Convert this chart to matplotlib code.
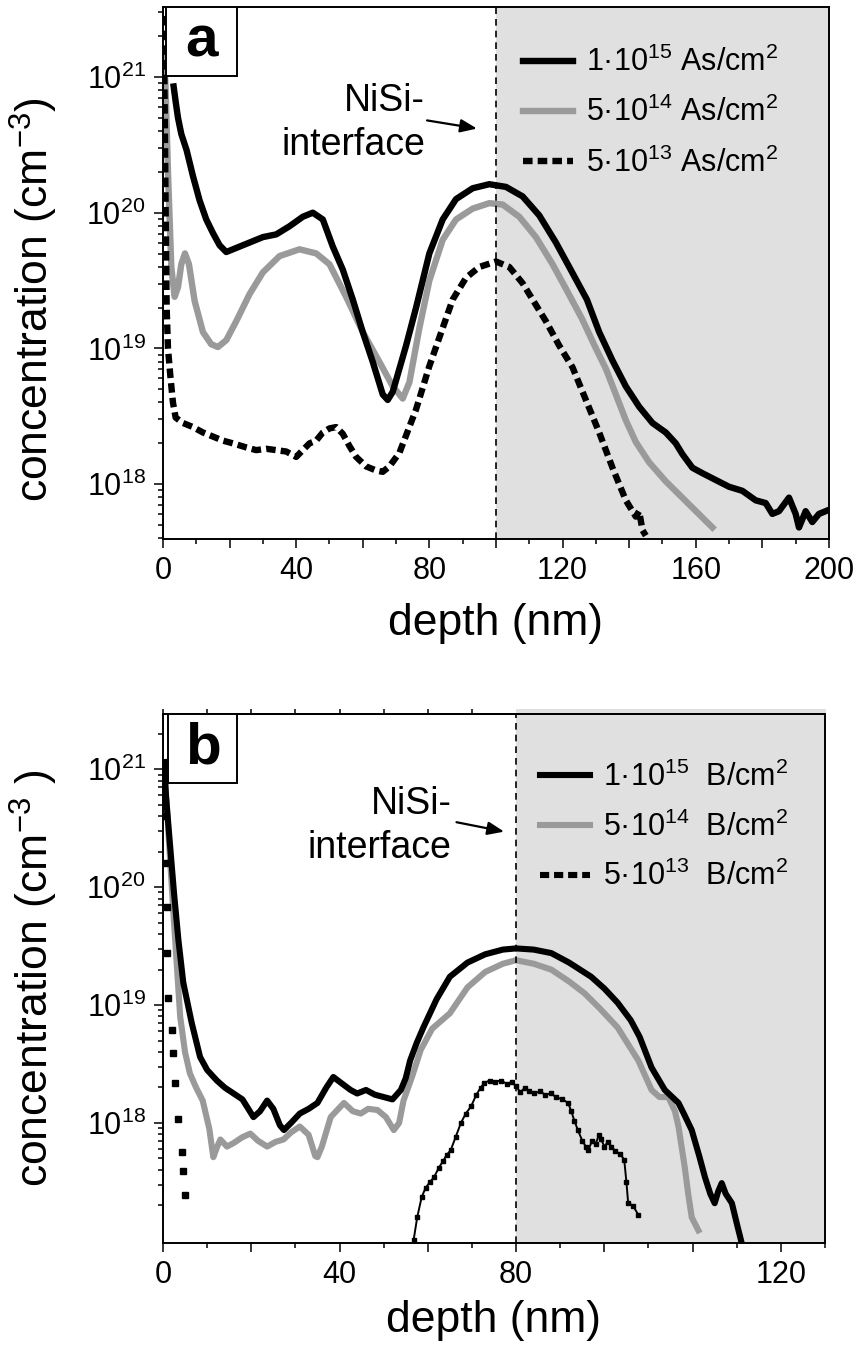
import numpy as np
import matplotlib
matplotlib.use("Agg")
import matplotlib.pyplot as plt
from matplotlib.lines import Line2D
from matplotlib.patches import Rectangle
from matplotlib.ticker import (MultipleLocator, FixedLocator, LogLocator,
                               FuncFormatter, NullFormatter, LogFormatterSciNotation)
import matplotlib.transforms as mtransforms

plt.rcParams['font.family'] = ['Liberation Sans', 'DejaVu Sans']
plt.rcParams['mathtext.fontset'] = 'custom'
plt.rcParams['mathtext.rm'] = 'Liberation Sans'
plt.rcParams['mathtext.it'] = 'Liberation Sans:italic'
plt.rcParams['mathtext.bf'] = 'Liberation Sans:bold'

# --- Panel a: As profiles (depth in nm, log10 of concentration in cm^-3) ---
a_1e15_x = [3.2, 3.8, 4.5, 5.5, 7.1, 9, 11, 13, 15, 17, 19, 22, 26, 30, 34, 38, 42, 45, 48,
            51, 54, 57, 60, 63, 66, 67.5, 69, 71, 73, 76, 80, 84, 88, 93, 98, 103, 108, 113,
            118, 122, 127.3, 131, 135, 139, 143, 147, 151, 154, 156, 159, 162, 166, 170, 174,
            178, 181, 183, 185, 188, 190, 191, 193, 195, 197, 200]
a_1e15_log = [20.93, 20.82, 20.70, 20.58, 20.46, 20.27, 20.09, 19.95, 19.85, 19.76, 19.71, 19.74,
              19.78, 19.82, 19.84, 19.90, 19.97, 20.00, 19.95, 19.75, 19.58, 19.36, 19.12, 18.90,
              18.66, 18.62, 18.68, 18.85, 19.02, 19.30, 19.70, 19.95, 20.10, 20.18, 20.21, 20.19,
              20.12, 19.98, 19.78, 19.60, 19.36, 19.12, 18.91, 18.72, 18.57, 18.45, 18.38, 18.30,
              18.22, 18.12, 18.08, 18.03, 17.98, 17.95, 17.88, 17.86, 17.78, 17.80, 17.90, 17.78,
              17.68, 17.80, 17.72, 17.78, 17.81]

a_5e14_x = [0.3, 0.8, 1.5, 2.5, 3.5, 4.5, 5.5, 6.6, 7.8, 9.5, 12, 14.5, 16.5, 19, 22, 26, 30, 35,
            41, 46, 50, 55, 60, 65, 69, 72, 74, 77, 80, 84, 88, 93, 98, 102, 107, 112, 117, 121,
            125.8, 130, 133, 136, 139, 142, 146, 151, 158, 165]
a_5e14_log = [21.20, 20.90, 20.30, 19.60, 19.38, 19.45, 19.62, 19.70, 19.62, 19.35, 19.12, 19.03,
              19.01, 19.06, 19.20, 19.40, 19.56, 19.68, 19.73, 19.70, 19.62, 19.38, 19.12, 18.90,
              18.72, 18.63, 18.75, 19.15, 19.50, 19.80, 19.95, 20.03, 20.07, 20.06, 19.97, 19.82,
              19.62, 19.44, 19.22, 19.00, 18.85, 18.66, 18.47, 18.31, 18.16, 18.02, 17.85, 17.68]

a_5e13_x = [0.2, 0.5, 0.8, 1.1, 1.5, 2.2, 3, 3.8, 6, 9, 12, 15, 18, 21, 25, 28, 31, 34, 37, 40,
            42, 44, 46, 48, 50, 52, 54, 56, 58, 61, 64, 66, 68, 71, 76, 80, 84, 87, 91, 95, 100,
            104, 108, 111, 115, 119, 123, 127, 131, 135, 139, 142, 143, 144, 145]
a_5e13_log = [21.45, 20.80, 20.00, 19.30, 19.00, 18.80, 18.60, 18.49, 18.45, 18.42, 18.38, 18.35,
              18.32, 18.30, 18.27, 18.25, 18.26, 18.25, 18.24, 18.20, 18.25, 18.30, 18.32, 18.38,
              18.41, 18.42, 18.37, 18.28, 18.20, 18.13, 18.10, 18.09, 18.13, 18.23, 18.55, 18.87,
              19.15, 19.36, 19.52, 19.60, 19.64, 19.60, 19.48, 19.36, 19.20, 19.02, 18.86, 18.62,
              18.38, 18.12, 17.88, 17.76, 17.80, 17.66, 17.62]

# --- Panel b: B profiles ---
b_1e15_x = [0.3, 0.7, 1.5, 2.5, 3.5, 4.6, 6.5, 8.4, 10, 12.2, 14, 16, 18, 20.5, 22, 23.6, 25,
            26.5, 27.4, 29, 31, 33, 35, 37, 38.6, 40, 42.5, 44, 46, 48, 50, 52, 53.9, 55, 56,
            57.5, 59, 62, 65, 69, 73, 77, 80, 84, 88, 92, 97, 100, 103, 106, 108, 110.7, 113.7,
            116.8, 118, 119.8, 121.5, 122.8, 124, 125, 125.8, 126.6, 127.5, 128.9, 130, 131]
b_1e15_log = [21.06, 20.76, 20.40, 19.95, 19.55, 19.19, 18.85, 18.56, 18.45, 18.36, 18.30, 18.25,
              18.20, 18.05, 18.10, 18.19, 18.12, 17.98, 17.94, 18.00, 18.08, 18.12, 18.17, 18.30,
              18.39, 18.35, 18.28, 18.25, 18.28, 18.24, 18.22, 18.20, 18.28, 18.38, 18.53, 18.68,
              18.81, 19.05, 19.24, 19.36, 19.43, 19.47, 19.48, 19.47, 19.44, 19.36, 19.24, 19.14,
              19.02, 18.87, 18.73, 18.47, 18.28, 18.17, 18.08, 17.94, 17.72, 17.54, 17.40, 17.32,
              17.42, 17.49, 17.40, 17.32, 17.15, 17.00]

b_5e14_x = [0.3, 0.8, 1.5, 2.5, 3.9, 5, 6.1, 7.5, 9, 10.5, 11.4, 12.3, 13, 14.5, 16, 18, 19.8,
            21.5, 23.6, 25.5, 27.3, 29, 31, 33, 34.5, 35, 36, 38, 41, 43, 44.8, 46.5, 48.6, 50.5,
            52.3, 53.5, 54.5, 56.5, 58.4, 61, 65, 69, 73, 77, 80, 84, 88, 92, 95.5, 99, 103,
            107.7, 110.7, 112.5, 114.5, 116, 116.8, 118.2, 119, 119.8, 121.3]
b_5e14_log = [20.90, 20.74, 20.30, 19.70, 18.90, 18.60, 18.42, 18.30, 18.19, 17.95, 17.71, 17.80,
              17.86, 17.80, 17.83, 17.88, 17.91, 17.85, 17.80, 17.84, 17.86, 17.92, 17.97, 17.90,
              17.72, 17.71, 17.80, 18.05, 18.17, 18.10, 18.08, 18.12, 18.11, 18.05, 17.94, 18.00,
              18.19, 18.40, 18.62, 18.80, 18.93, 19.15, 19.28, 19.35, 19.38, 19.35, 19.30, 19.20,
              19.10, 18.97, 18.81, 18.53, 18.28, 18.22, 18.22, 18.10, 17.97, 17.63, 17.40, 17.20,
              17.09]

b_5e13_surf_x = [0.2, 0.5, 0.8, 1.0, 1.2, 2.0, 2.3, 2.7, 3.4, 4.2, 4.6, 5.0]
b_5e13_surf_log = [20.60, 20.20, 19.83, 19.44, 19.06, 18.79, 18.59, 18.34, 18.03, 17.75, 17.59, 17.39]

b_5e13_peak_x = [56.8, 57.6, 58.6, 59.5, 60.5, 61.4, 62.5, 63.5, 64.3, 65.2, 66.3, 67.5, 68.6,
                 69.8, 71, 72, 72.8, 74, 75.3, 76.6, 78, 79, 80, 81, 82, 83, 84, 85.5, 86.5, 88,
                 89, 90.5, 91.8, 92.5, 93.2, 94, 95, 95.8, 96.4, 97.2, 98, 98.8, 99.3, 100,
                 100.8, 101.6, 102.5, 103.5, 104.5, 105, 105.4, 106.5, 107.7]
b_5e13_peak_log = [17.01, 17.20, 17.37, 17.45, 17.50, 17.54, 17.62, 17.68, 17.73, 17.77, 17.88,
                   18.00, 18.08, 18.14, 18.24, 18.30, 18.34, 18.36, 18.35, 18.36, 18.33, 18.35,
                   18.31, 18.26, 18.30, 18.27, 18.25, 18.27, 18.24, 18.25, 18.22, 18.20, 18.17,
                   18.10, 18.02, 17.94, 17.85, 17.80, 17.77, 17.85, 17.82, 17.90, 17.86, 17.80,
                   17.84, 17.80, 17.76, 17.74, 17.69, 17.50, 17.32, 17.30, 17.22]

a_labels = ['1·10$^{15}$ As/cm$^2$', '5·10$^{14}$ As/cm$^2$', '5·10$^{13}$ As/cm$^2$']
b_labels = ['1·10$^{15}$  B/cm$^2$', '5·10$^{14}$  B/cm$^2$', '5·10$^{13}$  B/cm$^2$']
b_xtick_pos = [0, 40, 80, 140]
b_xtick_labels = ['0', '40', '80', '120']

GRAY = '#9a9a9a'
SHADE = '#e0e0e0'
DOTS = (0, (1.5, 0.8))


def style_axis(ax):
    for s in ax.spines.values():
        s.set_linewidth(1.4)
    ax.tick_params(which='both', direction='out', width=1.1, labelsize=22, pad=6)
    ax.tick_params(which='major', length=6.5)
    ax.tick_params(which='minor', length=3.5)
    ax.set_yscale('log')
    ax.yaxis.set_major_locator(FixedLocator([1e18, 1e19, 1e20, 1e21]))
    ax.yaxis.set_major_formatter(LogFormatterSciNotation())
    ax.yaxis.set_minor_locator(LogLocator(base=10, subs=np.arange(2, 10), numticks=20))
    ax.yaxis.set_minor_formatter(NullFormatter())
    ax.xaxis.set_major_locator(MultipleLocator(20))
    ax.xaxis.set_minor_locator(MultipleLocator(10))


fig = plt.figure(figsize=(8.56, 13.46), dpi=100)

# ---------------- panel a ----------------
ax = fig.add_axes([0.1904, 0.5996, 0.7780, 0.3952])
style_axis(ax)
ax.axvspan(100, 200, color=SHADE, zorder=0, lw=0)
la1, = ax.plot(a_1e15_x, 10 ** np.array(a_1e15_log), color='black', lw=4.6, zorder=2)
la2, = ax.plot(a_5e14_x, 10 ** np.array(a_5e14_log), color=GRAY, lw=4.6, zorder=1.9)
la3, = ax.plot(a_5e13_x, 10 ** np.array(a_5e13_log), color='black', lw=4.6, ls=DOTS, zorder=2)
ax.axvline(100, color='black', lw=1.2, ls=(0, (4, 3)), zorder=3)
ax.set_xlim(0, 200)
ax.set_ylim(3.94e17, 3.28e21)
ax.xaxis.set_major_formatter(FuncFormatter(lambda v, p: f'{v:.0f}' if round(v) % 40 == 0 else ''))
ax.set_xlabel('depth (nm)', fontsize=32, labelpad=12)
ax.set_ylabel('concentration (cm$^{-3}$)', fontsize=32)
ax.yaxis.set_label_coords(-0.155, 0.45)
ax.legend([la1, la2, la3], a_labels, loc='upper left', bbox_to_anchor=(0.5405, 0.925),
          frameon=False, fontsize=22, handlelength=1.65, handletextpad=0.4,
          labelspacing=0.62, borderpad=0, borderaxespad=0)
ax.annotate('', xy=(94.3, 10 ** 20.62), xytext=(79.3, 10 ** 20.68),
            arrowprops=dict(arrowstyle='-|>,head_length=1.0,head_width=0.4', lw=1.6,
                            color='black', shrinkA=0, shrinkB=0))
ax.text(78.7, 10 ** 20.66, 'NiSi-\ninterface', fontsize=27, ha='right', va='center',
        multialignment='right', linespacing=1.3)
ax.add_patch(Rectangle((0.0045, 0.870), 0.1065, 0.13, transform=ax.transAxes,
                       facecolor='white', edgecolor='black', lw=1.4, zorder=4))
ax.text(0.0578, 0.935, 'a', transform=ax.transAxes, fontsize=42, fontweight='bold',
        ha='center', va='center', zorder=5)

# ---------------- panel b ----------------
bx = fig.add_axes([0.1904, 0.0765, 0.7734, 0.3930])
style_axis(bx)
trans = mtransforms.blended_transform_factory(bx.transData, bx.transAxes)
bx.add_patch(Rectangle((80, 0), 70.3, 1.0095, transform=trans, facecolor=SHADE,
                       edgecolor='none', zorder=0, clip_on=False))
lb1, = bx.plot(b_1e15_x, 10 ** np.array(b_1e15_log), color='black', lw=4.4, zorder=2)
lb2, = bx.plot(b_5e14_x, 10 ** np.array(b_5e14_log), color=GRAY, lw=4.4, zorder=1.9)
bx.plot(b_5e13_surf_x, 10 ** np.array(b_5e13_surf_log), color='black', ls='none',
        marker='s', ms=4.5, zorder=2)
bx.plot(b_5e13_peak_x, 10 ** np.array(b_5e13_peak_log), color='black', lw=1.4,
        marker='s', ms=2.6, zorder=2)
bx.axvline(80, color='black', lw=1.2, ls=(0, (4, 3)), zorder=3)
bx.set_xlim(0, 150)
bx.set_ylim(9.6e16, 2.93e21)
pos_lab = dict(zip(b_xtick_pos, b_xtick_labels))
bx.xaxis.set_major_formatter(FuncFormatter(lambda v, p: pos_lab.get(int(round(v)), '')))
top = bx.secondary_xaxis('top')
top.set_xticks(np.arange(0, 71, 10))
top.tick_params(direction='out', length=3.5, width=1.1, labeltop=False)
top.spines['top'].set_linewidth(1.4)
bx.set_xlabel('depth (nm)', fontsize=32, labelpad=7)
bx.set_ylabel('concentration (cm$^{-3}$ )', fontsize=32)
bx.yaxis.set_label_coords(-0.156, 0.5)
b3 = Line2D([], [], color='black', lw=4.4, ls=DOTS)
bx.legend([lb1, lb2, b3], b_labels, loc='upper left', bbox_to_anchor=(0.5695, 0.91),
          frameon=False, fontsize=22, handlelength=1.65, handletextpad=0.4,
          labelspacing=0.6, borderpad=0, borderaxespad=0)
bx.annotate('', xy=(77.3, 10 ** 20.47), xytext=(66.5, 10 ** 20.55),
            arrowprops=dict(arrowstyle='-|>,head_length=1.0,head_width=0.4', lw=1.6,
                            color='black', shrinkA=0, shrinkB=0))
bx.text(65.4, 10 ** 20.52, 'NiSi-\ninterface', fontsize=27, ha='right', va='center',
        multialignment='right', linespacing=1.3)
bx.add_patch(Rectangle((0.0076, 0.870), 0.1044, 0.13, transform=bx.transAxes,
                       facecolor='white', edgecolor='black', lw=1.4, zorder=4))
bx.text(0.0598, 0.935, 'b', transform=bx.transAxes, fontsize=42, fontweight='bold',
        ha='center', va='center', zorder=5)

fig.savefig('out.png', dpi=100)
